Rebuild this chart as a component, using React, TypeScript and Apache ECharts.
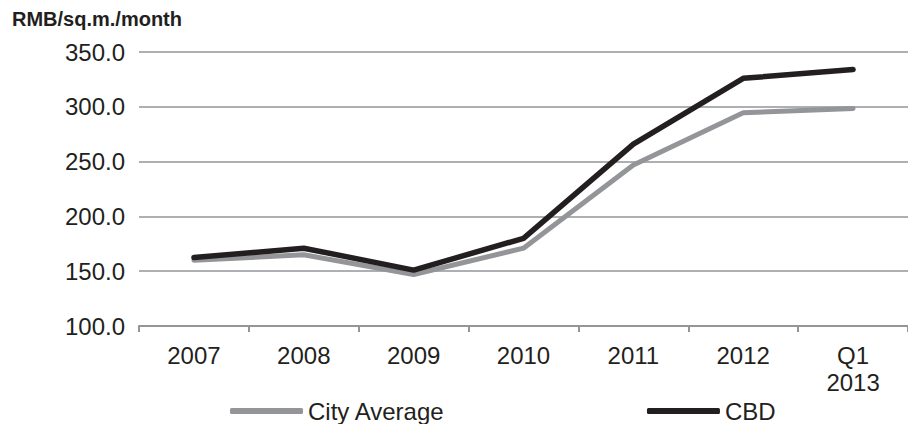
import React, { useEffect, useRef } from "react";
import * as echarts from "echarts";

const categories = ["2007", "2008", "2009", "2010", "2011", "2012", "Q1\n2013"];
const cityAverage = [160, 165, 147, 171, 247, 294.5, 298.5];
const cbd = [162.5, 171, 151, 180, 266, 326, 334];
const yTicks = { min: 100, max: 350, interval: 50 };
const unitLabel = "RMB/sq.m./month";

const FONT = "'Liberation Sans', Arial, Helvetica, sans-serif";
const INK = "#231f20";
const GREY = "#939598";

export default function App() {
  const ref = useRef<HTMLDivElement>(null);

  useEffect(() => {
    if (!ref.current) return;
    const chart = echarts.init(ref.current, undefined, { renderer: "svg" });
    chart.setOption({
      animation: false,
      backgroundColor: "#ffffff",
      textStyle: { fontFamily: FONT },
      title: {
        text: unitLabel,
        left: 12,
        top: 9,
        padding: 0,
        textStyle: { fontFamily: FONT, fontSize: 20, fontWeight: "bold", color: INK },
      },
      grid: { left: 139, top: 52, width: 776, height: 274 },
      legend: {
        data: ["City Average", "CBD"],
        left: 230,
        top: 399,
        padding: 0,
        icon: "roundRect",
        itemWidth: 73,
        itemHeight: 6,
        itemGap: 202,
        itemStyle: { borderWidth: 0 },
        textStyle: { fontFamily: FONT, fontSize: 24, color: INK },
      },
      xAxis: {
        type: "category",
        data: categories,
        boundaryGap: true,
        axisLine: { show: true, lineStyle: { color: GREY, width: 2 } },
        axisTick: { show: true, length: 6, lineStyle: { color: GREY, width: 2 } },
        axisLabel: {
          fontFamily: FONT,
          fontSize: 24,
          color: INK,
          margin: 16,
          lineHeight: 27,
          interval: 0,
        },
        splitLine: { show: false },
      },
      yAxis: {
        type: "value",
        min: yTicks.min,
        max: yTicks.max,
        interval: yTicks.interval,
        axisLine: { show: false },
        axisTick: { show: false },
        axisLabel: {
          fontFamily: FONT,
          fontSize: 24,
          color: INK,
          margin: 14,
          formatter: (v: number) => v.toFixed(1),
        },
        splitLine: { show: true, lineStyle: { color: GREY, width: 1.5 } },
      },
      series: [
        {
          name: "City Average",
          type: "line",
          data: cityAverage,
          symbol: "none",
          itemStyle: { color: GREY },
          lineStyle: { color: GREY, width: 5, cap: "round", join: "round" },
        },
        {
          name: "CBD",
          type: "line",
          data: cbd,
          symbol: "none",
          itemStyle: { color: INK },
          lineStyle: { color: INK, width: 5.5, cap: "round", join: "round" },
        },
      ],
    });
    return () => chart.dispose();
  }, []);

  return (
    <div
      ref={ref}
      style={{ position: "fixed", left: 0, top: 0, width: 908, height: 424 }}
    />
  );
}
